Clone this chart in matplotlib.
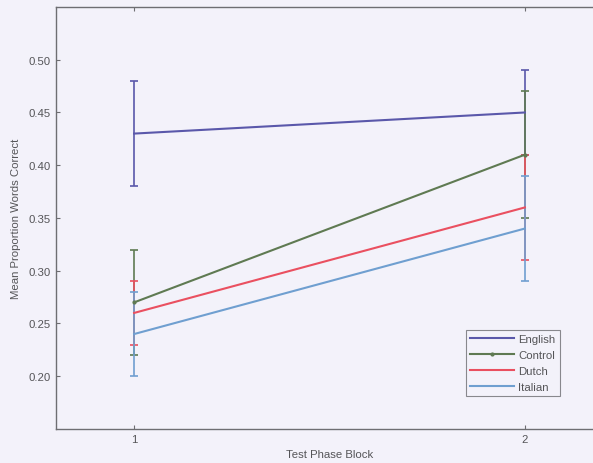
import numpy as np
import matplotlib
matplotlib.use("Agg")
import matplotlib.pyplot as plt
from matplotlib.lines import Line2D

# data
blocks = [1, 2]
groups = ["English", "Control", "Dutch", "Italian"]
english_mean = [0.43, 0.45]
english_err = [0.05, 0.04]
control_mean = [0.27, 0.41]
control_err = [0.05, 0.06]
dutch_mean = [0.26, 0.36]
dutch_err = [0.03, 0.05]
italian_mean = [0.24, 0.34]
italian_err = [0.04, 0.05]

colors = ["#5a58aa", "#5f7a52", "#ea5060", "#6f9fd0"]
markers = [None, ".", None, None]
means = [english_mean, control_mean, dutch_mean, italian_mean]
errs = [english_err, control_err, dutch_err, italian_err]

bg = "#f3f2fa"
axc = "#6e6e72"
txt = "#555558"
fs = 8.2

plt.rcParams["font.family"] = ["Liberation Sans", "DejaVu Sans"]

fig = plt.figure(figsize=(5.93, 4.64), dpi=100, facecolor=bg)
ax = fig.add_axes([0.0944, 0.0733, 0.9225, 0.9095], facecolor=bg)

handles = []
for name, m, e, c, mk in zip(groups, means, errs, colors, markers):
    ax.errorbar(blocks, m, yerr=e, color=c, lw=1.5, elinewidth=1.2,
                capsize=3, capthick=1.2, marker=mk, markersize=4)
    handles.append(Line2D([], [], color=c, lw=1.5, marker=mk, markersize=4, label=name))

ax.set_xlim(0.8, 2.2)
ax.set_ylim(0.15, 0.55)
ax.set_xticks(blocks)
yt = np.arange(0.20, 0.501, 0.05)
ax.set_yticks(yt)
ax.set_yticklabels([f"{v:.2f}" for v in yt])
ax.tick_params(direction="in", length=3, width=0.8, colors=axc,
               labelcolor=txt, labelsize=fs, top=True, right=True)
for s in ax.spines.values():
    s.set_color(axc)
    s.set_linewidth(1.0)

ax.set_xlabel("Test Phase Block", fontsize=fs, color=txt, labelpad=4)
ax.set_ylabel("Mean Proportion Words Correct", fontsize=fs, color=txt, labelpad=6)

leg = ax.legend(handles=handles, loc="lower right", bbox_to_anchor=(0.921, 0.078),
                borderaxespad=0, fontsize=fs, frameon=True, fancybox=False,
                handlelength=3.8, borderpad=0.4, labelspacing=0.5, handletextpad=0.4)
leg.get_frame().set_edgecolor(axc)
leg.get_frame().set_facecolor(bg)
leg.get_frame().set_linewidth(0.8)
for t in leg.get_texts():
    t.set_color(txt)

fig.savefig("out.png", dpi=100, facecolor=bg)
